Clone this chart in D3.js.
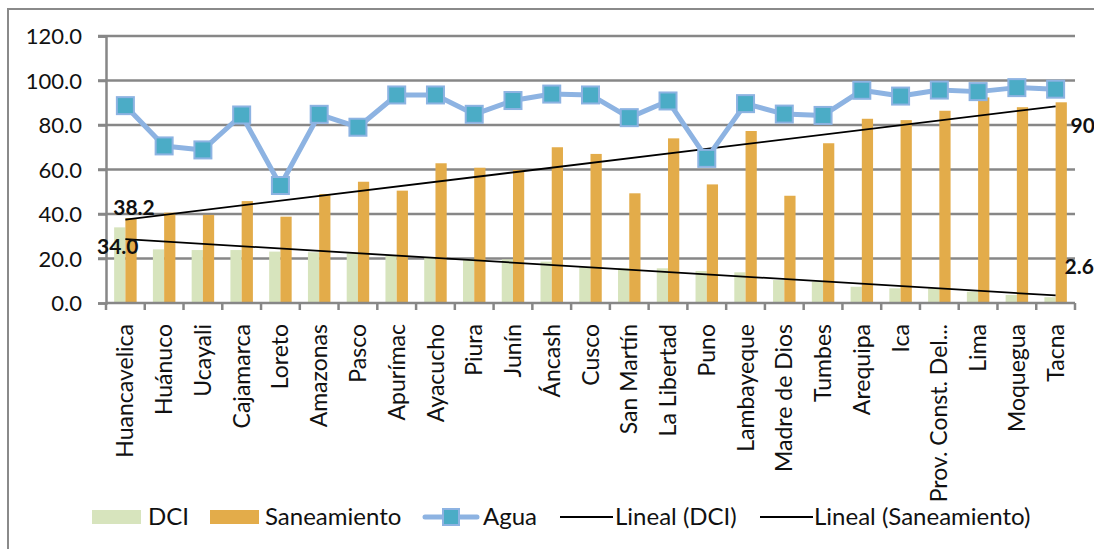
<!DOCTYPE html>
<html>
<head>
<meta charset="utf-8">
<script src="https://cdn.jsdelivr.net/npm/d3@7/dist/d3.min.js"></script>
<style>
  html, body { margin: 0; padding: 0; background: #fff; overflow: hidden; }
  svg { display: block; }
  text { font-family: Lato, "Open Sans", sans-serif; fill: #111; }
</style>
</head>
<body>
<svg id="chart" width="1094" height="549"></svg>
<script>
const categories = ["Huancavelica","Huánuco","Ucayali","Cajamarca","Loreto","Amazonas","Pasco","Apurímac","Ayacucho","Piura","Junín","Áncash","Cusco","San Martín","La Libertad","Puno","Lambayeque","Madre de Dios","Tumbes","Arequipa","Ica","Prov. Const. Del...","Lima","Moquegua","Tacna"];
const dci = [34.0, 24.1, 23.8, 23.8, 23.1, 22.8, 22.3, 21.3, 20.4, 19.8, 19.6, 18.6, 16.3, 15.6, 15.6, 14.4, 13.8, 10.3, 9.6, 7.3, 6.6, 6.6, 5.1, 3.6, 2.6];
const saneamiento = [38.2, 40.6, 39.6, 45.8, 38.8, 49.0, 54.5, 50.5, 62.8, 60.8, 59.8, 70.0, 67.0, 49.3, 74.0, 53.3, 77.3, 48.2, 71.8, 82.8, 82.2, 86.4, 92.4, 88.0, 90.2];
const agua = [88.7, 70.6, 68.8, 84.5, 52.8, 84.8, 79.0, 93.5, 93.5, 84.8, 91.0, 93.9, 93.5, 83.3, 90.8, 65.0, 89.6, 84.9, 84.3, 95.6, 93.0, 95.7, 95.0, 96.8, 96.1];
const yTicks = [0, 20, 40, 60, 80, 100, 120];
const legendItems = ["DCI", "Saneamiento", "Agua", "Lineal (DCI)", "Lineal (Saneamiento)"];

const C = { dci: "#d7e4bd", san: "#e3ac4a", aguaLine: "#8db3e2", aguaMark: "#4bacc6", grid: "#878787" };

const svg = d3.select("#chart");
const L = 106, R = 1075, T = 36, B = 303;

// outer frame
svg.append("rect").attr("x", 8).attr("y", 9).attr("width", 1200).attr("height", 700)
  .attr("fill", "none").attr("stroke", "#8a8a8a").attr("stroke-width", 2);

const x = d3.scaleBand().domain(categories).range([L, R]).padding(0);
const bw = x.bandwidth();
const xs = d3.scaleBand().domain(["dci", "san"]).range([bw * 0.21, bw * 0.79]);
const y = d3.scaleLinear().domain([0, 120]).range([B, T]);
const cx = c => x(c) + bw / 2;

// gridlines
svg.append("g").selectAll("line").data(yTicks.filter(t => t > 0)).join("line")
  .attr("x1", L - 8).attr("x2", R).attr("y1", d => y(d)).attr("y2", d => y(d))
  .attr("stroke", C.grid).attr("stroke-width", 2.5);

// y axis
const yAxis = svg.append("g").attr("transform", `translate(${L},0)`)
  .call(d3.axisLeft(y).tickValues(yTicks).tickSize(8).tickPadding(16).tickFormat(d3.format(".1f")));
yAxis.select(".domain").attr("stroke", C.grid).attr("stroke-width", 2.5);
yAxis.selectAll(".tick line").attr("stroke", C.grid).attr("stroke-width", 2.5);
yAxis.selectAll(".tick text").style("font-size", "22px").attr("fill", "#111").attr("dy", "0.35em");

// bars
svg.append("g").selectAll("rect").data(categories).join("rect")
  .attr("x", c => x(c) + xs("dci")).attr("width", xs.bandwidth())
  .attr("y", (c, i) => y(dci[i])).attr("height", (c, i) => B - y(dci[i]))
  .attr("fill", C.dci);
svg.append("g").selectAll("rect").data(categories).join("rect")
  .attr("x", c => x(c) + xs("san")).attr("width", xs.bandwidth())
  .attr("y", (c, i) => y(saneamiento[i])).attr("height", (c, i) => B - y(saneamiento[i]))
  .attr("fill", C.san);

// x axis
const xAxisG = svg.append("g").attr("transform", `translate(0,${B})`);
xAxisG.append("line").attr("x1", L).attr("x2", R).attr("stroke", C.grid).attr("stroke-width", 2.5);
xAxisG.selectAll("line.tk").data(d3.range(categories.length + 1)).join("line").attr("class", "tk")
  .attr("x1", i => L + i * bw).attr("x2", i => L + i * bw).attr("y1", 0).attr("y2", 7)
  .attr("stroke", C.grid).attr("stroke-width", 2.5);
xAxisG.selectAll("text").data(categories).join("text")
  .attr("transform", c => `translate(${cx(c)},21) rotate(-90)`)
  .attr("text-anchor", "end").attr("dy", "0.35em")
  .style("font-size", "23px").text(c => c);

// trendlines (least squares)
function trend(vals) {
  const n = vals.length, xs_ = d3.range(n);
  const mx = d3.mean(xs_), my = d3.mean(vals);
  const b = d3.sum(xs_, i => (i - mx) * (vals[i] - my)) / d3.sum(xs_, i => (i - mx) ** 2);
  const a = my - b * mx;
  return [[0, a], [n - 1, a + b * (n - 1)]];
}
const tl = d3.line().x(d => cx(categories[d[0]])).y(d => y(d[1]));
svg.append("path").attr("d", tl(trend(dci))).attr("stroke", "#000").attr("stroke-width", 1.8).attr("fill", "none");
svg.append("path").attr("d", tl(trend(saneamiento))).attr("stroke", "#000").attr("stroke-width", 1.8).attr("fill", "none");

// agua line + markers
const line = d3.line().x((d, i) => cx(categories[i])).y(d => y(d));
svg.append("path").attr("d", line(agua)).attr("fill", "none")
  .attr("stroke", C.aguaLine).attr("stroke-width", 5).attr("stroke-linejoin", "round");
svg.append("g").selectAll("rect").data(agua).join("rect")
  .attr("x", (d, i) => cx(categories[i]) - 8.5).attr("y", d => y(d) - 8.5)
  .attr("width", 17).attr("height", 17)
  .attr("fill", C.aguaMark).attr("stroke", C.aguaLine).attr("stroke-width", 2);

// data labels
const f1 = d3.format(".1f");
const f0 = d3.format(".0f");
const lab = svg.append("g").style("font-size", "21px").style("font-weight", "bold");
const first = categories[0], last = categories[categories.length - 1];
lab.append("text").attr("x", x(first) + xs("san") + xs.bandwidth() / 2 + 3).attr("y", y(saneamiento[0]) - 3)
  .attr("text-anchor", "middle").text(f1(saneamiento[0]));
lab.append("text").attr("x", x(first) + xs("dci") + xs.bandwidth() / 2 - 2).attr("y", y(dci[0]) + 27)
  .attr("text-anchor", "middle").text(f1(dci[0]));
lab.append("text").attr("x", cx(last) + 15).attr("y", y(saneamiento[24]) + 31).text(f0(saneamiento[24]));
lab.append("text").attr("x", cx(last) + 9).attr("y", y(dci[24]) - 23).text(f1(dci[24]));

// legend
const lg = svg.append("g").style("font-size", "24px");
const ly = 517;
lg.append("rect").attr("x", 92).attr("y", ly - 7).attr("width", 49).attr("height", 14).attr("fill", C.dci);
lg.append("text").attr("x", 148).attr("y", ly).attr("dy", "0.35em").text(legendItems[0]);
lg.append("rect").attr("x", 210).attr("y", ly - 7).attr("width", 49).attr("height", 14).attr("fill", C.san);
lg.append("text").attr("x", 265).attr("y", ly).attr("dy", "0.35em").text(legendItems[1]);
lg.append("line").attr("x1", 425).attr("x2", 477).attr("y1", ly).attr("y2", ly)
  .attr("stroke", C.aguaLine).attr("stroke-width", 5).attr("stroke-linecap", "round");
lg.append("rect").attr("x", 443).attr("y", ly - 8).attr("width", 16).attr("height", 16)
  .attr("fill", C.aguaMark).attr("stroke", C.aguaLine).attr("stroke-width", 2);
lg.append("text").attr("x", 483).attr("y", ly).attr("dy", "0.35em").text(legendItems[2]);
lg.append("line").attr("x1", 560).attr("x2", 613).attr("y1", ly).attr("y2", ly).attr("stroke", "#000").attr("stroke-width", 1.8);
lg.append("text").attr("x", 615).attr("y", ly).attr("dy", "0.35em").text(legendItems[3]);
lg.append("line").attr("x1", 760).attr("x2", 813).attr("y1", ly).attr("y2", ly).attr("stroke", "#000").attr("stroke-width", 1.8);
lg.append("text").attr("x", 814).attr("y", ly).attr("dy", "0.35em").text(legendItems[4]);
</script>
</body>
</html>
